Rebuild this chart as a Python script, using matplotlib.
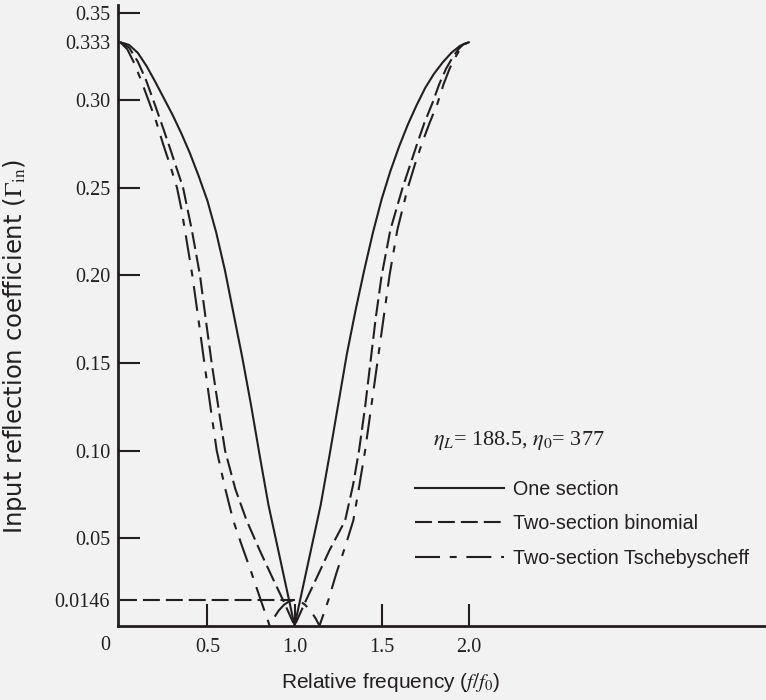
import matplotlib
matplotlib.use("Agg")
import matplotlib.pyplot as plt

# --- data (f/f0, |Gamma_in|) ---
one_f = [0.0, 0.05, 0.10, 0.15, 0.20, 0.25, 0.30, 0.35, 0.40, 0.45, 0.50, 0.55, 0.60, 0.65, 0.70,
         0.75, 0.80, 0.85, 0.90, 0.95, 1.0,
         1.05, 1.10, 1.15, 1.20, 1.25, 1.30, 1.35, 1.40, 1.45, 1.50, 1.55, 1.60, 1.65, 1.70,
         1.75, 1.80, 1.85, 1.90, 1.95, 2.0]
one_g = [0.333, 0.3315, 0.327, 0.3195, 0.3105, 0.301, 0.2915, 0.281, 0.2695, 0.2565, 0.2425, 0.2245, 0.203,
         0.178, 0.153, 0.126, 0.097, 0.069, 0.046, 0.023, 0.0,
         0.023, 0.046, 0.069, 0.097, 0.126, 0.155, 0.180, 0.203, 0.2245, 0.2435, 0.2595, 0.2735, 0.286, 0.297,
         0.307, 0.315, 0.3215, 0.327, 0.331, 0.333]

bin_f = [0.0, 0.05, 0.10, 0.145, 0.189, 0.235, 0.28, 0.32, 0.36, 0.41, 0.457, 0.49, 0.524, 0.562, 0.601,
         0.66, 0.725, 0.80, 0.87, 0.934, 1.0,
         1.066, 1.13, 1.20, 1.29, 1.335, 1.37, 1.405, 1.435, 1.465, 1.50, 1.55, 1.585, 1.62, 1.66, 1.70,
         1.745, 1.79, 1.83, 1.87, 1.905, 1.94, 1.97, 2.0]
bin_g = [0.333, 0.330, 0.322, 0.312, 0.300, 0.287, 0.274, 0.262, 0.250, 0.226, 0.200, 0.175, 0.150, 0.125, 0.100,
         0.078, 0.060, 0.043, 0.028, 0.0146, 0.0,
         0.0146, 0.028, 0.043, 0.060, 0.080, 0.100, 0.125, 0.150, 0.175, 0.200, 0.226, 0.238, 0.250, 0.262, 0.274,
         0.287, 0.298, 0.309, 0.318, 0.324, 0.329, 0.332, 0.333]

tch_f = [0.0, 0.04, 0.08, 0.12, 0.161, 0.205, 0.245, 0.285, 0.325, 0.35, 0.372, 0.413, 0.448, 0.482, 0.517,
         0.553, 0.60, 0.648, 0.70, 0.75, 0.806, 0.857,
         0.88, 0.91, 0.94, 0.97, 1.0, 1.03, 1.06, 1.09, 1.12, 1.143,
         1.194, 1.24, 1.29, 1.337, 1.37, 1.405, 1.44, 1.475, 1.51, 1.545, 1.59, 1.62, 1.65, 1.69, 1.73,
         1.775, 1.82, 1.855, 1.89, 1.92, 1.95, 1.975, 2.0]
tch_g = [0.333, 0.329, 0.321, 0.311, 0.300, 0.288, 0.275, 0.263, 0.250, 0.238, 0.225, 0.200, 0.175, 0.150, 0.125,
         0.100, 0.079, 0.060, 0.045, 0.031, 0.0146, 0.0,
         0.0043, 0.0088, 0.0120, 0.0140, 0.0146, 0.0140, 0.0120, 0.0088, 0.0043, 0.0,
         0.0146, 0.030, 0.045, 0.060, 0.079, 0.100, 0.125, 0.150, 0.175, 0.200, 0.226, 0.238, 0.250, 0.263, 0.275,
         0.287, 0.298, 0.309, 0.318, 0.324, 0.329, 0.332, 0.333]

ripple_f = [0.0, 1.0]
ripple_g = [0.0146, 0.0146]

major_y = [0.05, 0.10, 0.15, 0.20, 0.25, 0.30, 0.35]
major_y_labels = ["0.05", "0.10", "0.15", "0.20", "0.25", "0.30", "0.35"]
extra_y = [0.0146, 0.333]
extra_y_labels = ["0.0146", "0.333"]
major_x = [0.5, 1.0, 1.5, 2.0]
major_x_labels = ["0.5", "1.0", "1.5", "2.0"]

BG = "#f2f2f2"
INK = "#231f20"

plt.rcParams["lines.scale_dashes"] = False
plt.rcParams["mathtext.fontset"] = "stix"
plt.rcParams["font.family"] = "Liberation Sans"

fig = plt.figure(figsize=(7.66, 7.00), dpi=100)
fig.patch.set_facecolor(BG)
ax = fig.add_axes([0.1534, 0.1061, 0.8466, 0.8868])
ax.set_facecolor(BG)

lw = 1.5
DASH = (0, (12.2, 4.3))
DASHDOT = (0, (18, 7, 5, 7))
ax.plot(one_f, one_g, color=INK, lw=lw, solid_joinstyle="round", label="One section")
ax.plot(bin_f, bin_g, color=INK, lw=lw, linestyle=DASH, label="Two-section binomial")
ax.plot(tch_f, tch_g, color=INK, lw=lw, linestyle=DASHDOT, label="Two-section Tschebyscheff")
ax.plot(ripple_f, ripple_g, color=INK, lw=lw, linestyle=DASH)

for s in ["top", "right"]:
    ax.spines[s].set_visible(False)
for s in ["left", "bottom"]:
    ax.spines[s].set_linewidth(2.0)
    ax.spines[s].set_color(INK)

ax.set_xticks(major_x, labels=major_x_labels)
ax.set_yticks(major_y, labels=major_y_labels)
ax.set_yticks(extra_y, labels=extra_y_labels, minor=True)
# limits after the ticks, set_ticks would widen them
ax.set_xlim(-0.0164, 3.706)
ax.set_ylim(0, 0.3543)

ax.tick_params(axis="both", which="major", direction="in", length=16, width=1.5, color=INK)
ax.tick_params(axis="both", which="minor", direction="in", length=0)
ax.tick_params(axis="x", which="both", pad=8.5)
ax.tick_params(axis="y", which="both", pad=5.4)
for lab in ax.get_xticklabels(which="both") + ax.get_yticklabels(which="both"):
    lab.set_fontfamily("Liberation Serif")
    lab.set_fontsize(14.5)
    lab.set_color(INK)

# the corner "0" sits left of the spine, below the axis
ax.annotate("0", xy=(0, 0), xytext=(-10.8, -13.9), textcoords="offset points",
            ha="center", va="center", fontsize=14.5, color=INK,
            fontfamily="Liberation Serif", annotation_clip=False)

fig.text(15 / 766, 1 - 346 / 700, r"Input reflection coefficient ($\Gamma_{\mathrm{in}}$)",
         rotation=90, ha="center", va="center", fontsize=17.5, color=INK,
         fontfamily="DejaVu Sans")
fig.text(390 / 766, 1 - 683 / 700, r"Relative frequency ($f/f_0$)",
         ha="center", va="center", fontsize=15, color=INK)
fig.text(433 / 766, 1 - 440 / 700, r"$\eta_L$= 188.5, $\eta_0$= 377",
         ha="left", va="center", fontsize=16, color=INK, fontfamily="Liberation Serif")

leg = ax.legend(loc="upper left", bbox_to_anchor=(415 / 766, 1 - 480 / 700),
                bbox_transform=fig.transFigure, frameon=False, borderpad=0,
                borderaxespad=0, handlelength=4.5, handletextpad=0.45,
                labelspacing=0.78, fontsize=14.2)
for t in leg.get_texts():
    t.set_color(INK)

fig.savefig("out.png", dpi=100, facecolor=BG)
